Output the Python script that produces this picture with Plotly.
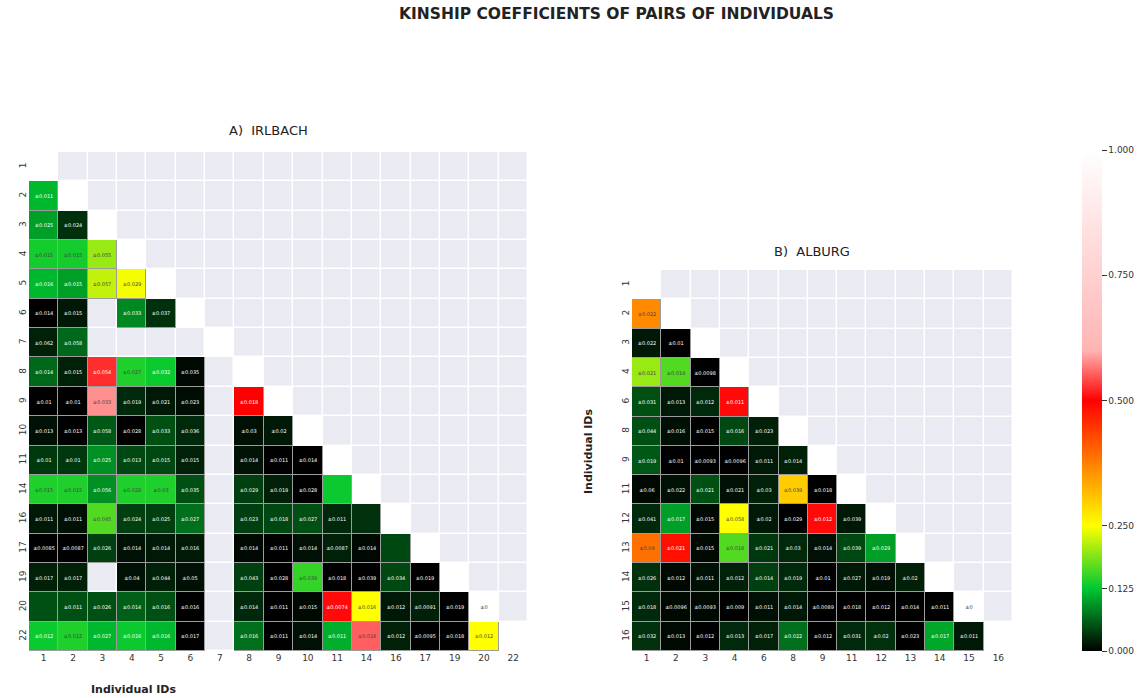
import plotly.graph_objects as go

# ---------------------------------------------------------------- data
# Irlbach: individual IDs and lower-triangle kinship coefficients (row by row,
# columns up to and including the diagonal). None = pair not estimated.
irl_ids = [1, 2, 3, 4, 5, 6, 7, 8, 9, 10, 11, 14, 16, 17, 19, 20, 22]
irl_kin = [
    [1.0],
    [0.115, 1.0],
    [0.10, 0.03, 1.0],
    [0.135, 0.135, 0.20, 1.0],
    [0.115, 0.10, 0.22, 0.245, 1.0],
    [0.0, 0.015, None, 0.085, 0.03, 1.0],
    [0.02, 0.065, None, None, None, None, 1.0],
    [0.065, 0.02, 0.525, 0.14, 0.13, 0.005, None, 1.0],
    [0.0, 0.0, 0.58, 0.025, 0.015, 0.008, None, 0.50, 1.0],
    [0.01, 0.0, 0.055, 0.0, 0.05, 0.025, None, 0.01, 0.015, 1.0],
    [0.035, 0.035, 0.09, 0.045, 0.045, 0.02, None, 0.012, 0.0, 0.0, 1.0],
    [0.14, 0.14, 0.09, 0.14, 0.14, 0.05, None, 0.04, 0.02, 0.0, 0.13, 1.0],
    [0.015, 0.01, 0.165, 0.04, 0.04, 0.07, None, 0.04, 0.045, 0.05, 0.025, 0.03, 1.0],
    [0.0, 0.0, 0.04, 0.01, 0.015, 0.015, None, 0.005, 0.0, 0.01, 0.02, 0.005, 0.045, 1.0],
    [0.02, 0.02, None, 0.01, 0.02, 0.01, None, 0.04, 0.0, 0.15, 0.0, 0.0, 0.045, 0.0, 1.0],
    [0.05, 0.05, 0.05, 0.06, 0.05, 0.0, None, 0.025, 0.0, 0.005, 0.505, 0.25, 0.015, 0.02, 0.0, 1.0],
    [0.13, 0.14, 0.115, 0.13, 0.115, 0.0, None, 0.07, 0.0, 0.01, 0.11, 0.553, 0.02, 0.0, 0.0, 0.25, 1.0],
]
irl_se = [
    [""],
    ["±0.011", ""],
    ["±0.025", "±0.024", ""],
    ["±0.015", "±0.015", "±0.055", ""],
    ["±0.016", "±0.015", "±0.057", "±0.029", ""],
    ["±0.014", "±0.015", "", "±0.033", "±0.037", ""],
    ["±0.062", "±0.058", "", "", "", "", ""],
    ["±0.014", "±0.015", "±0.054", "±0.027", "±0.032", "±0.035", "", ""],
    ["±0.01", "±0.01", "±0.033", "±0.019", "±0.021", "±0.023", "", "±0.018", ""],
    ["±0.013", "±0.013", "±0.058", "±0.028", "±0.033", "±0.036", "", "±0.03", "±0.02", ""],
    ["±0.01", "±0.01", "±0.025", "±0.013", "±0.015", "±0.015", "", "±0.014", "±0.011", "±0.014", ""],
    ["±0.015", "±0.015", "±0.056", "±0.028", "±0.03", "±0.035", "", "±0.029", "±0.019", "±0.028", "", ""],
    ["±0.011", "±0.011", "±0.045", "±0.024", "±0.025", "±0.027", "", "±0.023", "±0.018", "±0.027",
     "±0.011", "", ""],
    ["±0.0085", "±0.0087", "±0.026", "±0.014", "±0.014", "±0.016", "", "±0.014", "±0.011", "±0.014",
     "±0.0087", "±0.014", "", ""],
    ["±0.017", "±0.017", "", "±0.04", "±0.044", "±0.05", "", "±0.043", "±0.028", "±0.039",
     "±0.018", "±0.039", "±0.034", "±0.019", ""],
    ["", "±0.011", "±0.026", "±0.014", "±0.016", "±0.016", "", "±0.014", "±0.011", "±0.015",
     "±0.0074", "±0.016", "±0.012", "±0.0091", "±0.019", "±0"],
    ["±0.012", "±0.012", "±0.027", "±0.016", "±0.016", "±0.017", "", "±0.016", "±0.011", "±0.014",
     "±0.011", "±0.018", "±0.012", "±0.0095", "±0.018", "±0.012", ""],
]

# Alburg
alb_ids = [1, 2, 3, 4, 6, 8, 9, 11, 12, 13, 14, 15, 16]
alb_kin = [
    [1.0],
    [0.365, 1.0],
    [0.015, 0.0, 1.0],
    [0.20, 0.165, 0.0, 1.0],
    [0.05, 0.015, 0.025, 0.505, 1.0],
    [0.05, 0.01, 0.0, 0.045, 0.02, 1.0],
    [0.055, 0.0, 0.0, 0.0, 0.015, 0.02, 1.0],
    [0.005, 0.01, 0.05, 0.01, 0.02, 0.30, 0.0, 1.0],
    [0.025, 0.10, 0.005, 0.25, 0.015, 0.0, 0.505, 0.015, 1.0],
    [0.39, 0.485, 0.005, 0.165, 0.035, 0.025, 0.01, 0.045, 0.10, 1.0],
    [0.03, 0.005, 0.01, 0.02, 0.04, 0.025, 0.0, 0.015, 0.01, 0.02, 1.0],
    [0.025, 0.005, 0.005, 0.0, 0.01, 0.015, 0.0, 0.0, 0.0, 0.0, 0.0, 1.0],
    [0.03, 0.005, 0.0, 0.025, 0.02, 0.07, 0.0, 0.025, 0.03, 0.0, 0.105, 0.015, 1.0],
]
alb_se = [
    [""],
    ["±0.022", ""],
    ["±0.022", "±0.01", ""],
    ["±0.021", "±0.014", "±0.0098", ""],
    ["±0.031", "±0.013", "±0.012", "±0.011", ""],
    ["±0.044", "±0.016", "±0.015", "±0.016", "±0.023", ""],
    ["±0.019", "±0.01", "±0.0093", "±0.0096", "±0.011", "±0.014", ""],
    ["±0.06", "±0.022", "±0.021", "±0.021", "±0.03", "±0.039", "±0.018", ""],
    ["±0.041", "±0.017", "±0.015", "±0.058", "±0.02", "±0.029", "±0.012", "±0.039", ""],
    ["±0.04", "±0.021", "±0.015", "±0.018", "±0.021", "±0.03", "±0.014", "±0.039", "±0.029", ""],
    ["±0.026", "±0.012", "±0.011", "±0.012", "±0.014", "±0.019", "±0.01", "±0.027", "±0.019",
     "±0.02", ""],
    ["±0.018", "±0.0096", "±0.0093", "±0.009", "±0.011", "±0.014", "±0.0089", "±0.018", "±0.012",
     "±0.014", "±0.011", "±0"],
    ["±0.032", "±0.013", "±0.012", "±0.013", "±0.017", "±0.022", "±0.012", "±0.031", "±0.02",
     "±0.023", "±0.017", "±0.011", ""],
]

cbar_ticks = [0.0, 0.125, 0.25, 0.5, 0.75, 1.0]

# ---------------------------------------------------------------- styling
W, H = 1147, 698
FONT = "DejaVu Sans"
GRID_BG = "#EAEAF2"
kin_scale = [
    [0.0, "#000000"],
    [0.125, "#00c832"],
    [0.25, "#ffff00"],
    [0.5, "#ff0000"],
    [0.6, "#ffb4b4"],
    [1.0, "#ffffff"],
]


def full_matrix(rows, fill):
    n = len(rows)
    return [[rows[i][j] if j <= i else fill for j in range(n)] for i in range(n)]


def add_panel(fig, ids, kin, se, xa, ya, show_scale):
    n = len(ids)
    idx = list(range(n))
    z = full_matrix(kin, None)
    txt = full_matrix(se, "")
    # grey background grid for every cell (white gaps between the cells)
    back = [[1] * n for _ in range(n)]
    # grey separators beneath the estimated off-diagonal pairs
    frame = [[1 if (z[i][j] is not None and i != j) else 0 for j in range(n)] for i in range(n)]
    common = dict(x=idx, y=idx, xaxis=xa, yaxis=ya, hoverinfo="skip", showscale=False)
    fig.add_trace(go.Heatmap(z=back, colorscale=[[0, GRID_BG], [1, GRID_BG]],
                             xgap=1.5, ygap=1.5, **common))
    fig.add_trace(go.Heatmap(z=frame, zmin=0, zmax=1,
                             colorscale=[[0, "rgba(0,0,0,0)"], [0.5, "rgba(0,0,0,0)"],
                                         [0.5, "#9c9c9c"], [1, "#9c9c9c"]], **common))
    cb = dict(
        x=1082 / W, xanchor="left", y=47 / H, yanchor="bottom",
        len=501 / H, lenmode="fraction", thickness=20, outlinewidth=0,
        xpad=0, ypad=0,
        tickvals=cbar_ticks, ticktext=[f"{t:.3f}" for t in cbar_ticks],
        ticks="outside", ticklen=5, tickcolor="#333",
        tickfont=dict(family=FONT, size=9, color="#333"),
    )
    fig.add_trace(go.Heatmap(
        z=z, x=idx, y=idx, xaxis=xa, yaxis=ya,
        text=txt, texttemplate="%{text}",
        textfont=dict(family=FONT, size=5),
        colorscale=kin_scale, zmin=0, zmax=1,
        xgap=1, ygap=1, hoverongaps=False,
        showscale=show_scale, colorbar=cb,
    ))
    return n


fig = go.Figure()
n1 = add_panel(fig, irl_ids, irl_kin, irl_se, "x", "y", True)
n2 = add_panel(fig, alb_ids, alb_kin, alb_se, "x2", "y2", False)

tickfont = dict(family=FONT, size=9, color="#333")


def axis_pair(ids, n, xdom, ydom, anchor_x, anchor_y):
    xa = dict(domain=xdom, range=[-0.5, n - 0.5], tickvals=list(range(n)),
              ticktext=[str(i) for i in ids], showgrid=False, zeroline=False,
              ticks="", tickfont=tickfont, tickangle=0, anchor=anchor_y, fixedrange=True)
    ya = dict(domain=ydom, range=[n - 0.5, -0.5], tickvals=list(range(n)),
              ticktext=[str(i) for i in ids], showgrid=False, zeroline=False,
              ticks="", tickfont=tickfont, tickangle=-90, anchor=anchor_x, fixedrange=True)
    return xa, ya


x1, y1 = axis_pair(irl_ids, n1, [29 / W, 528 / W], [47 / H, 546 / H], "x", "y")
x2, y2 = axis_pair(alb_ids, n2, [632 / W, 1013 / W], [47 / H, 428 / H], "x2", "y2")

annotations = [
    dict(text="KINSHIP COEFFICIENTS OF PAIRS OF INDIVIDUALS", x=616 / W, y=1 - 14 / H,
         font=dict(family=FONT, size=15.5, color="#222", weight="bold")),
    dict(text="A)\u00a0 IRLBACH", x=268 / W, y=1 - 131 / H,
         font=dict(family=FONT, size=13, color="#222")),
    dict(text="B)\u00a0 ALBURG", x=812 / W, y=1 - 251 / H,
         font=dict(family=FONT, size=13, color="#222")),
    dict(text="Individual IDs", x=133 / W, y=1 - 689 / H,
         font=dict(family=FONT, size=11, color="#222", weight="bold")),
    dict(text="Individual IDs", x=588 / W, y=1 - 452 / H, textangle=-90,
         font=dict(family=FONT, size=11, color="#222", weight="bold")),
]
for a in annotations:
    a.update(xref="paper", yref="paper", showarrow=False, xanchor="center", yanchor="middle")

fig.update_layout(
    width=W, height=H,
    margin=dict(l=0, r=0, t=0, b=0),
    paper_bgcolor="white", plot_bgcolor="white",
    xaxis=x1, yaxis=y1, xaxis2=x2, yaxis2=y2,
    annotations=annotations,
    showlegend=False,
)

fig.write_html("out.html")
